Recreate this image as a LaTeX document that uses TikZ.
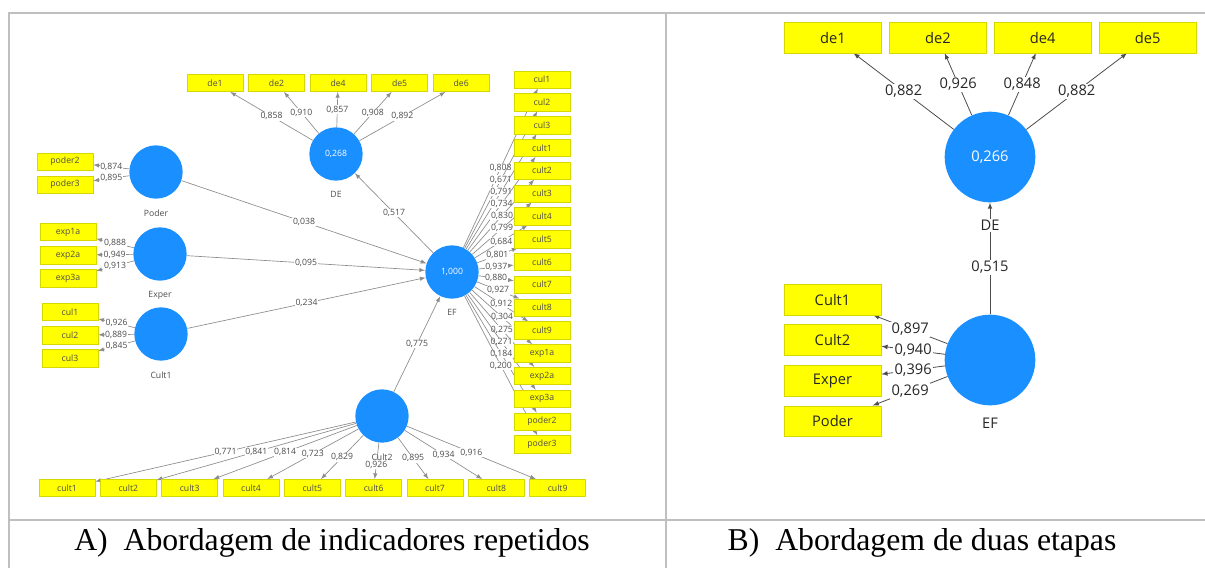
\documentclass[tikz,border=0pt]{standalone}
\usepackage{fontspec}
\setmainfont{Liberation Serif}
\newfontfamily\plsfont{Open Sans}
\usetikzlibrary{arrows, positioning}
\definecolor{plsblue}{HTML}{1A8FFF}
\definecolor{plsyellow}{HTML}{FFFF00}
\definecolor{boxline}{HTML}{D6D600}
\definecolor{rulegrey}{HTML}{BFBFBF}
\def\small{\plsfont\fontsize{6.5}{7}\selectfont}
\def\big{\plsfont\fontsize{11}{13}\selectfont}
\pgfdeclarelayer{background}
\pgfsetlayers{background,main}
\tikzstyle{ind} = [rectangle, minimum width=42pt, minimum height=13pt, inner sep=0pt, fill=plsyellow, draw=boxline, line width=0.4pt, text=black!70, font=\small]
\tikzstyle{indB} = [ind, minimum width=73pt, minimum height=23pt, text=black!85, font=\big]
\tikzstyle{lv} = [circle, minimum size=40pt, inner sep=0pt, fill=plsblue, text=white, font=\small]
\tikzstyle{lvB} = [lv, minimum size=68pt, font=\big]
\tikzstyle{lvname} = [text=black!70, font=\small]
\tikzstyle{lvnameB} = [text=black!85, font=\big, fill=white, inner sep=1pt]
\tikzstyle{aro} = [-latex, draw=black!45, line width=0.5pt]
\tikzstyle{aroB} = [-latex, draw=black!70, line width=0.6pt]
\tikzstyle{w} = [fill=white, inner sep=0.5pt, text=black!70, font=\small]
\tikzstyle{wB} = [fill=white, inner sep=1pt, text=black!85, font=\big]
\tikzstyle{grid} = [draw=rulegrey, line width=1.5pt]

\begin{document}
\begin{tikzpicture}[x=0.75pt, y=-0.75pt, label distance=4.5pt]
  \useasboundingbox (0,0) rectangle (1205,568);

  \draw [grid] (9,568) -- (9,13) -- (1205,13);
  \draw [grid] (666,13) -- (666,568);
  \draw [grid] (9,520) -- (1205,520);

  \node (capA) at (332,543) {\fontsize{23.8}{27}\selectfont A)~~Abordagem de indicadores repetidos};
  \node (capB) at (922,543) {\fontsize{23.8}{27}\selectfont B)~~Abordagem de duas etapas};

  %% A) repeated indicators
  \node (de) [lv, label={[lvname]below:DE}] at (336,154) {0,268};
  \node (de-de1) [ind] at (215,83) {de1};
  \node (de-de2) [ind, right=3.75pt of de-de1] {de2};
  \node (de-de4) [ind, right=3.75pt of de-de2] {de4};
  \node (de-de5) [ind, right=3.75pt of de-de4] {de5};
  \node (de-de6) [ind, right=3.75pt of de-de5] {de6};

  \node (poder) [lv, label={[lvname]below:Poder}] at (156,172) {};
  \node (po-poder2) [ind] at (65,161.5) {poder2};
  \node (po-poder3) [ind, below=4pt of po-poder2] {poder3};

  \node (exper) [lv, label={[lvname]below:Exper}] at (160,254) {};
  \node (ex-exp1a) [ind] at (68,232) {exp1a};
  \node (ex-exp2a) [ind, below=4pt of ex-exp1a] {exp2a};
  \node (ex-exp3a) [ind, below=4pt of ex-exp2a] {exp3a};

  \node (cult1) [lv, label={[lvname]below:Cult1}] at (161,334) {};
  \node (c1-cul1) [ind] at (70,312) {cul1};
  \node (c1-cul2) [ind, below=4pt of c1-cul1] {cul2};
  \node (c1-cul3) [ind, below=4pt of c1-cul2] {cul3};

  \node (ef) [lv, label={[lvname]below:EF}] at (452,272) {1,000};
  \node (ef-cul1) [ind] at (542,79.5) {cul1};
  \node (ef-cul2) [ind, below=3.7pt of ef-cul1] {cul2};
  \node (ef-cul3) [ind, below=3.7pt of ef-cul2] {cul3};
  \node (ef-cult1) [ind, below=3.7pt of ef-cul3] {cult1};
  \node (ef-cult2) [ind, below=3.7pt of ef-cult1] {cult2};
  \node (ef-cult3) [ind, below=3.7pt of ef-cult2] {cult3};
  \node (ef-cult4) [ind, below=3.7pt of ef-cult3] {cult4};
  \node (ef-cult5) [ind, below=3.7pt of ef-cult4] {cult5};
  \node (ef-cult6) [ind, below=3.7pt of ef-cult5] {cult6};
  \node (ef-cult7) [ind, below=3.7pt of ef-cult6] {cult7};
  \node (ef-cult8) [ind, below=3.7pt of ef-cult7] {cult8};
  \node (ef-cult9) [ind, below=3.7pt of ef-cult8] {cult9};
  \node (ef-exp1a) [ind, below=3.7pt of ef-cult9] {exp1a};
  \node (ef-exp2a) [ind, below=3.7pt of ef-exp1a] {exp2a};
  \node (ef-exp3a) [ind, below=3.7pt of ef-exp2a] {exp3a};
  \node (ef-poder2) [ind, below=3.7pt of ef-exp3a] {poder2};
  \node (ef-poder3) [ind, below=3.7pt of ef-poder2] {poder3};

  \node (cult2) [lv, label={[lvname]below:Cult2}] at (382,416) {};
  \node (c2-cult1) [ind] at (67,488) {cult1};
  \node (c2-cult2) [ind, right=3.6pt of c2-cult1] {cult2};
  \node (c2-cult3) [ind, right=3.6pt of c2-cult2] {cult3};
  \node (c2-cult4) [ind, right=3.6pt of c2-cult3] {cult4};
  \node (c2-cult5) [ind, right=3.6pt of c2-cult4] {cult5};
  \node (c2-cult6) [ind, right=3.6pt of c2-cult5] {cult6};
  \node (c2-cult7) [ind, right=3.6pt of c2-cult6] {cult7};
  \node (c2-cult8) [ind, right=3.6pt of c2-cult7] {cult8};
  \node (c2-cult9) [ind, right=3.6pt of c2-cult8] {cult9};

  \begin{pgfonlayer}{background}
    \draw (de) edge[aro] node[w]{0,858} (de-de1)
               edge[aro] node[w]{0,910} (de-de2)
               edge[aro] node[w]{0,857} (de-de4)
               edge[aro] node[w]{0,908} (de-de5)
               edge[aro] node[w]{0,892} (de-de6);
    \draw (poder) edge[aro] node[w]{0,874} (po-poder2)
                  edge[aro] node[w]{0,895} (po-poder3)
                  edge[aro] node[w]{0,038} (ef);
    \draw (exper) edge[aro] node[w]{0,888} (ex-exp1a)
                  edge[aro] node[w]{0,949} (ex-exp2a)
                  edge[aro] node[w]{0,913} (ex-exp3a)
                  edge[aro] node[w]{0,095} (ef);
    \draw (cult1) edge[aro] node[w]{0,926} (c1-cul1)
                  edge[aro] node[w]{0,889} (c1-cul2)
                  edge[aro] node[w]{0,845} (c1-cul3)
                  edge[aro] node[w]{0,234} (ef);
    \draw (ef) edge[aro] node[w]{0,517} (de);
    \draw (cult2) edge[aro] node[w]{0,775} (ef);
    \draw (ef) edge[aro] node[w]{0,808} (ef-cul1)
               edge[aro] node[w]{0,671} (ef-cul2)
               edge[aro] node[w]{0,791} (ef-cul3)
               edge[aro] node[w]{0,734} (ef-cult1)
               edge[aro] node[w]{0,830} (ef-cult2)
               edge[aro] node[w]{0,799} (ef-cult3)
               edge[aro] node[w]{0,684} (ef-cult4)
               edge[aro] node[w]{0,801} (ef-cult5)
               edge[aro] node[w]{0,937} (ef-cult6)
               edge[aro] node[w]{0,880} (ef-cult7)
               edge[aro] node[w]{0,927} (ef-cult8)
               edge[aro] node[w]{0,912} (ef-cult9)
               edge[aro] node[w]{0,304} (ef-exp1a)
               edge[aro] node[w]{0,275} (ef-exp2a)
               edge[aro] node[w]{0,271} (ef-exp3a)
               edge[aro] node[w]{0,184} (ef-poder2)
               edge[aro] node[w]{0,200} (ef-poder3);
    \draw (cult2) edge[aro] node[w]{0,771} (c2-cult1)
                  edge[aro] node[w]{0,841} (c2-cult2)
                  edge[aro] node[w]{0,814} (c2-cult3)
                  edge[aro] node[w]{0,723} (c2-cult4)
                  edge[aro] node[w]{0,829} (c2-cult5)
                  edge[aro] node[w, pos=0.6]{0,926} (c2-cult6)
                  edge[aro] node[w]{0,895} (c2-cult7)
                  edge[aro] node[w]{0,934} (c2-cult8)
                  edge[aro] node[w]{0,916} (c2-cult9);
  \end{pgfonlayer}

  %% B) two-stage
  \node (deB) [lvB, label={[lvnameB, label distance=12pt]below:DE}] at (990,157) {0,266};
  \node (B-de1) [indB] at (833,37.5) {de1};
  \node (B-de2) [indB, right=5.25pt of B-de1] {de2};
  \node (B-de4) [indB, right=5.25pt of B-de2] {de4};
  \node (B-de5) [indB, right=5.25pt of B-de4] {de5};

  \node (efB) [lvB, label={[lvnameB, label distance=8pt]below:EF}] at (990,360) {};
  \node (B-cult1) [indB] at (832.5,299.5) {Cult1};
  \node (B-cult2) [indB, below=7pt of B-cult1] {Cult2};
  \node (B-exper) [indB, below=7pt of B-cult2] {Exper};
  \node (B-poder) [indB, below=7pt of B-exper] {Poder};

  \begin{pgfonlayer}{background}
    \draw (deB) edge[aroB] node[wB]{0,882} (B-de1)
                edge[aroB] node[wB]{0,926} (B-de2)
                edge[aroB] node[wB]{0,848} (B-de4)
                edge[aroB] node[wB]{0,882} (B-de5);
    \draw (efB) edge[aroB] node[wB, pos=0.42]{0,515} (deB)
                edge[aroB] node[wB]{0,897} (B-cult1)
                edge[aroB] node[wB]{0,940} (B-cult2)
                edge[aroB] node[wB]{0,396} (B-exper)
                edge[aroB] node[wB]{0,269} (B-poder);
  \end{pgfonlayer}
\end{tikzpicture}
\end{document}
